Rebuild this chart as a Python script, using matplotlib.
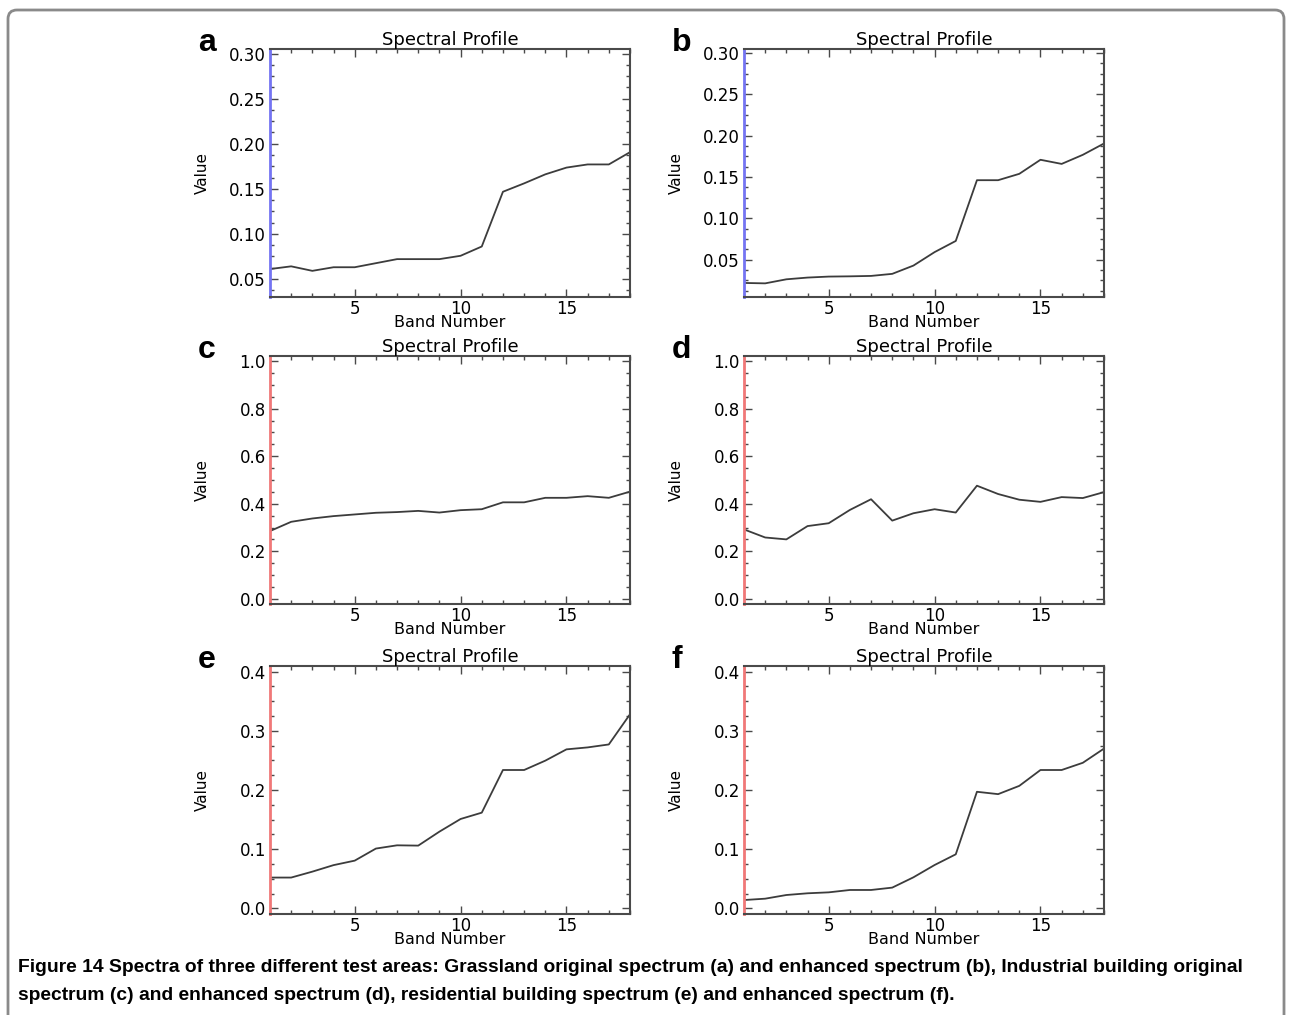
import matplotlib
matplotlib.use("Agg")
import matplotlib.pyplot as plt
from matplotlib.ticker import MultipleLocator, FormatStrFormatter
from matplotlib.patches import FancyBboxPatch
from matplotlib import font_manager

# spectra, bands 1..18
bands = list(range(1, 19))
grass_orig = [0.061, 0.064, 0.059, 0.063, 0.063, 0.0675, 0.072, 0.072, 0.072,
              0.0757, 0.086, 0.1467, 0.156, 0.166, 0.1735, 0.177, 0.177, 0.1906]
grass_enh = [0.022, 0.0215, 0.0264, 0.0285, 0.0297, 0.030, 0.0305, 0.033, 0.043,
             0.0593, 0.0728, 0.1463, 0.1463, 0.154, 0.171, 0.166, 0.177, 0.1907]
ind_orig = [0.285, 0.324, 0.338, 0.348, 0.355, 0.362, 0.365, 0.370, 0.363,
            0.373, 0.377, 0.406, 0.406, 0.425, 0.425, 0.432, 0.425, 0.451]
ind_enh = [0.292, 0.258, 0.250, 0.306, 0.318, 0.374, 0.419, 0.329, 0.360,
           0.377, 0.363, 0.476, 0.441, 0.417, 0.408, 0.428, 0.424, 0.449]
res_orig = [0.052, 0.052, 0.062, 0.073, 0.0806, 0.101, 0.1065, 0.106, 0.1296,
            0.151, 0.1617, 0.2338, 0.2338, 0.2496, 0.2687, 0.272, 0.277, 0.328]
res_enh = [0.014, 0.0163, 0.0225, 0.0254, 0.027, 0.031, 0.031, 0.035, 0.0524,
           0.0732, 0.0913, 0.197, 0.193, 0.207, 0.2338, 0.2338, 0.246, 0.270]

letters = ["a", "b", "c", "d", "e", "f"]
series = [grass_orig, grass_enh, ind_orig, ind_enh, res_orig, res_enh]

W, H = 1292, 1015
fig = plt.figure(figsize=(W / 100, H / 100), dpi=100)

# (left px, top px, ylim, major step, fmt, left spine colour)
panels = [
    (270, 49, (0.030, 0.305), 0.05, "%.2f", "#7474f2"),
    (744, 49, (0.005, 0.305), 0.05, "%.2f", "#7474f2"),
    (270, 356, (-0.022, 1.022), 0.2, "%.1f", "#f07878"),
    (744, 356, (-0.022, 1.022), 0.2, "%.1f", "#f07878"),
    (270, 666, (-0.0096, 0.4096), 0.1, "%.1f", "#f07878"),
    (744, 666, (-0.0096, 0.4096), 0.1, "%.1f", "#f07878"),
]
aw, ah = 360, 248

frame = "#4a4a4a"
for (lx, ty, ylim, step, fmt, lcol), vals, letter in zip(panels, series, letters):
    ax = fig.add_axes([lx / W, 1 - (ty + ah) / H, aw / W, ah / H])
    ax.plot(bands, vals, color="#3c3c3c", lw=1.3)
    ax.set_xlim(1, 18)
    ax.set_ylim(*ylim)
    ax.xaxis.set_major_locator(MultipleLocator(5))
    ax.xaxis.set_minor_locator(MultipleLocator(1))
    ax.yaxis.set_major_locator(MultipleLocator(step))
    ax.yaxis.set_minor_locator(MultipleLocator(step / 4))
    ax.yaxis.set_major_formatter(FormatStrFormatter(fmt))
    ax.tick_params(which="both", direction="in", top=True, right=True,
                   color=frame, labelsize=12, pad=3)
    ax.tick_params(axis="x", pad=2)
    ax.tick_params(which="major", length=6, width=1)
    ax.tick_params(which="minor", length=3, width=1)
    for s in ax.spines.values():
        s.set_color(frame)
        s.set_linewidth(1.5)
    ax.spines["left"].set_color(lcol)
    ax.spines["left"].set_linewidth(2)
    ax.set_title("Spectral Profile", fontsize=13, pad=3)
    ax.set_xlabel("Band Number", fontsize=11.5)
    ax.xaxis.set_label_coords(0.5, -0.074)
    ax.set_ylabel("Value", fontsize=11)
    ax.yaxis.set_label_coords(-0.167, 0.5)
    fig.text((lx - 72) / W, 1 - (ty + 2) / H, letter, fontsize=23,
             fontweight="bold", family="Liberation Sans", va="baseline", ha="left")

# rounded frame around the figure, open past the bottom edge
box = FancyBboxPatch((8 / 100, -0.3), (1284 - 8) / 100, (H - 10) / 100 + 0.3,
                     boxstyle="round,pad=0,rounding_size=0.09",
                     transform=fig.dpi_scale_trans, fill=False,
                     edgecolor="#8a8a8a", lw=2)
fig.patches.append(box)

names = {f.name for f in font_manager.fontManager.ttflist}
cap_font = "Liberation Sans Narrow" if "Liberation Sans Narrow" in names else "Liberation Sans"
caption1 = ("Figure 14 Spectra of three different test areas: Grassland original spectrum (a) "
            "and enhanced spectrum (b), Industrial building original")
caption2 = ("spectrum (c) and enhanced spectrum (d), residential building spectrum (e) "
            "and enhanced spectrum (f).")
fig.text(18 / W, 1 - 968 / H, caption1, fontsize=13.85, fontweight="bold",
         family=cap_font, va="center", ha="left")
fig.text(18 / W, 1 - 995 / H, caption2, fontsize=13.85, fontweight="bold",
         family=cap_font, va="center", ha="left")

fig.savefig("out.png", dpi=100)
